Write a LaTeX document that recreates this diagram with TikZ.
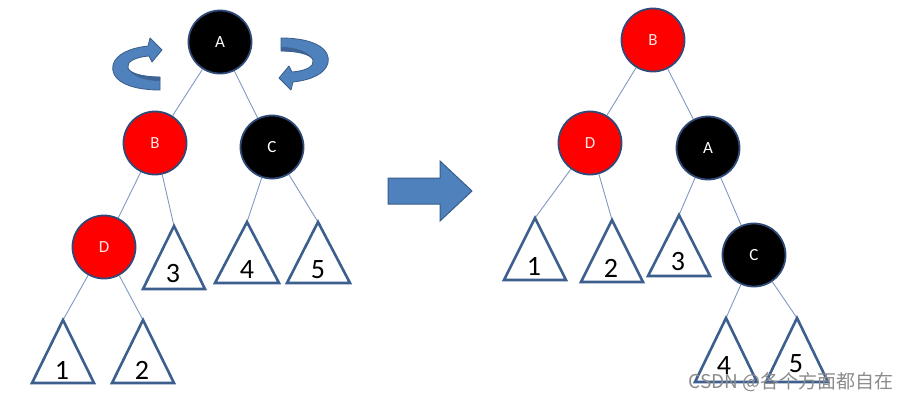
\documentclass[tikz,border=0pt]{standalone}
\usepackage{fontspec}
\setmainfont{Carlito}
\newfontfamily\cjkfont{Noto Sans CJK SC}
\definecolor{nodeedge}{HTML}{2F4A78}
\definecolor{linkcol}{HTML}{7F9AC2}
\definecolor{tricol}{HTML}{3C5F8E}
\definecolor{arrowblue}{HTML}{4F81BD}
\definecolor{arrowdark}{HTML}{385D8A}
\definecolor{rbred}{HTML}{FF0000}
\definecolor{pinkwhite}{HTML}{FFE4E4}
\tikzset{
  rbnode/.style={circle, minimum size=63pt, inner sep=0pt, draw=nodeedge, line width=1.8pt,
    font=\fontsize{17}{17}\selectfont},
  rednode/.style={rbnode, fill=rbred, text=pinkwhite},
  blacknode/.style={rbnode, fill=black, text=white},
  link/.style={draw=linkcol, line width=0.9pt},
  tri/.style={draw=tricol, line width=2.6pt, line join=miter, fill=white},
  num/.style={font=\fontsize{28}{28}\selectfont, inner sep=0pt, text=black},
  rotarr/.pic={
    \path[fill=arrowblue, draw=arrowdark, line width=0.8pt, line join=round]
      (23,13) -- (23,26) .. controls (-12,26) and (-27,14) .. (-24,1)
      .. controls (-21,-10) and (-7,-16) .. (11,-18) -- (13,-26) -- (25,-14) -- (15,-2) -- (12,-8)
      .. controls (-2,-7) and (-11,-2) .. (-9,4)
      .. controls (-7,10) and (8,13) .. (23,13) -- cycle;
    \path[fill=arrowdark!80!arrowblue]
      (23,13) .. controls (8,13) and (-7,10) .. (-9,4) .. controls (-6,12) and (8,17) .. (23,17) -- cycle;
  }
}
\begin{document}
\begin{tikzpicture}[x=1pt,y=-1pt]
\path[fill=white] (0,0) rectangle (908,400);
\useasboundingbox (0,0) rectangle (908,400);

% ---------- left tree ----------
\coordinate (lt1) at (63,320);
\coordinate (lt2) at (143,320);
\coordinate (lt3) at (174,226);
\coordinate (lt4) at (247,222);
\coordinate (lt5) at (318,222);

\node[blacknode] (lA) at (220,42) {A};
\node[rednode]   (lB) at (155,143) {B};
\node[blacknode] (lC) at (272,147) {C};
\node[rednode]   (lD) at (104,247) {D};

\draw[link] (lA) -- (lB);
\draw[link] (lA) -- (lC);
\draw[link] (lB) -- (lD);
\draw[link] (lB) -- (lt3);
\draw[link] (lC) -- (lt4);
\draw[link] (lC) -- (lt5);
\draw[link] (lD) -- (lt1);
\draw[link] (lD) -- (lt2);

\draw[tri] (lt1) -- ++(-31,63) -- ++(62,0) -- cycle;
\draw[tri] (lt2) -- ++(-31,63) -- ++(62,0) -- cycle;
\draw[tri] (lt3) -- ++(-31,63) -- ++(62,0) -- cycle;
\draw[tri] (lt4) -- ++(-32,61) -- ++(64,0) -- cycle;
\draw[tri] (lt5) -- ++(-31,61) -- ++(63,0) -- cycle;

\node[num] (ln1) at (62,370) {1};
\node[num] (ln2) at (142,370) {2};
\node[num] (ln3) at (173,274) {3};
\node[num] (ln4) at (247,270) {4};
\node[num] (ln5) at (318,270) {5};

% rotation arrows
\pic at (137,64) {rotarr};
\pic[rotate=180] at (304,64) {rotarr};

% ---------- big arrow ----------
\path[fill=arrowblue, draw=arrowdark, line width=1pt, line join=miter]
  (388,178) -- (440,178) -- (440,161) -- (472,191) -- (440,221) -- (440,204) -- (388,204) -- cycle;

% ---------- right tree ----------
\coordinate (rt1) at (535,218);
\coordinate (rt2) at (612,220);
\coordinate (rt3) at (679,215);
\coordinate (rt4) at (726,318);
\coordinate (rt5) at (797,318);

\node[rednode]   (rB) at (653,40) {B};
\node[rednode]   (rD) at (590,143) {D};
\node[blacknode] (rA) at (708,148) {A};
\node[blacknode] (rC) at (754,255) {C};

\draw[link] (rB) -- (rD);
\draw[link] (rB) -- (rA);
\draw[link] (rD) -- (rt1);
\draw[link] (rD) -- (rt2);
\draw[link] (rA) -- (rt3);
\draw[link] (rA) -- (rC);
\draw[link] (rC) -- (rt4);
\draw[link] (rC) -- (rt5);

\draw[tri] (rt1) -- ++(-31,62) -- ++(62,0) -- cycle;
\draw[tri] (rt2) -- ++(-31,62) -- ++(62,0) -- cycle;
\draw[tri] (rt3) -- ++(-31,61) -- ++(62,0) -- cycle;
\draw[tri] (rt4) -- ++(-31,64) -- ++(62,0) -- cycle;
\draw[tri] (rt5) -- ++(-31,64) -- ++(62,0) -- cycle;

\node[num] (rn1) at (534,266) {1};
\node[num] (rn2) at (611,268) {2};
\node[num] (rn3) at (678,262) {3};
\node[num] (rn4) at (724,366) {4};
\node[num] (rn5) at (796,364) {5};

% watermark
\node[anchor=east, inner sep=0pt, text=black!45, font=\cjkfont\fontsize{19}{19}\selectfont]
  (wm) at (894,382) {CSDN @各个方面都自在};
\end{tikzpicture}
\end{document}
